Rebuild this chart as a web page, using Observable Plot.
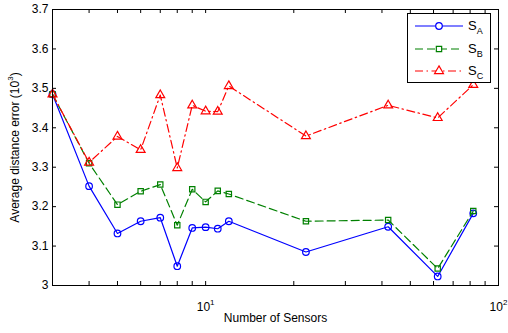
<!DOCTYPE html>
<html><head><meta charset="utf-8">
<script src="https://cdn.jsdelivr.net/npm/d3@7"></script>
<script src="https://cdn.jsdelivr.net/npm/@observablehq/plot@0.6"></script>
<style>
body{margin:0;background:#fff;}
#wrap{position:relative;width:508px;height:333px;font-family:"Liberation Sans",Arial,Helvetica,sans-serif;}
#legend{position:absolute;left:407px;top:13px;width:82px;height:68px;border:1.3px solid #000;background:#fff;}
.row{position:absolute;left:0;width:82px;height:20px;}
.row svg{position:absolute;left:7px;top:0;}
.row span{position:absolute;left:60px;top:0;line-height:20px;font-size:13px;color:#000;}
.row sub{font-size:9px;vertical-align:-4px;line-height:0;}
</style>
</head><body>
<div id="wrap"></div>
<script>
// ---- data ----
const sensors = [3, 4, 5, 6, 7, 8, 9, 10, 11, 12, 22, 42, 62, 82];
const sA = [3.485, 3.252, 3.132, 3.163, 3.172, 3.049, 3.146, 3.148, 3.144, 3.163, 3.085, 3.149, 3.023, 3.183];
const sB = [3.485, 3.310, 3.205, 3.239, 3.256, 3.153, 3.244, 3.212, 3.240, 3.232, 3.163, 3.166, 3.043, 3.189];
const sC = [3.485, 3.312, 3.378, 3.344, 3.483, 3.298, 3.457, 3.442, 3.441, 3.506, 3.379, 3.457, 3.425, 3.509];
const seriesNames = ["A", "B", "C"];
const yTicks = [3, 3.1, 3.2, 3.3, 3.4, 3.5, 3.6, 3.7];
const xMajorTicks = [10, 100];
const xMinorTicks = [4, 5, 6, 7, 8, 9, 20, 30, 40, 50, 60, 70, 80, 90];
const xLabel = "Number of Sensors";
const yLabel = "Average distance error (10^3)";

// ---- layout / style ----
const W = 508, H = 333, mL = 52, mR = 10, mT = 9, mB = 48;
const fw = W - mL - mR, fh = H - mT - mB, tk = 4;
const colors = ["#0000ff", "#008000", "#ff0000"];
const dashes = [null, "8,4", "8,3.5,1.5,3.5"];
const symbols = ["circle", "square", "triangle"];
const radii = [3.3, 3, 3.3];
const allX = [...xMinorTicks, ...xMajorTicks];

const series = [sA, sB, sC];
const seriesMarks = series.flatMap((vals, s) => {
  const rows = sensors.map((x, i) => ({x, y: vals[i]}));
  return [
    Plot.line(rows, {x: "x", y: "y", stroke: colors[s], strokeWidth: 1.2, strokeDasharray: dashes[s]}),
    Plot.dot(rows, {x: "x", y: "y", stroke: colors[s], fill: "none", strokeWidth: 1.2, symbol: symbols[s], r: radii[s]})
  ];
});

const chart = Plot.plot({
  width: W, height: H,
  marginLeft: mL, marginRight: mR, marginTop: mT, marginBottom: mB,
  style: {fontFamily: '"Liberation Sans", Arial, Helvetica, sans-serif', fontSize: "12px", color: "#000", background: "#fff", overflow: "visible"},
  x: {type: "log", domain: [3, 100]},
  y: {domain: [3, 3.7]},
  marks: [
    Plot.axisX({ticks: xMajorTicks, tickSize: 0, tickPadding: 17, tickFormat: d => "10^" + Math.round(Math.log10(d)), label: null}),
    Plot.axisY({ticks: yTicks, tickSize: 0, tickPadding: 4, tickFormat: d => String(+d.toFixed(1)), label: null}),
    Plot.ruleY(yTicks, {insetRight: fw - tk, stroke: "#000"}),
    Plot.ruleY(yTicks, {insetLeft: fw - tk, stroke: "#000"}),
    Plot.ruleX(allX, {insetTop: fh - tk, stroke: "#000"}),
    Plot.ruleX(allX, {insetBottom: fh - tk, stroke: "#000"}),
    ...seriesMarks,
    Plot.frame({stroke: "#000", strokeWidth: 1}),
    Plot.text([xLabel], {text: d => d, frameAnchor: "bottom", dy: 36, fontSize: 12, textAnchor: "middle"}),
    Plot.text([yLabel], {text: d => d, frameAnchor: "left", rotate: -90, dx: -37, fontSize: 12, textAnchor: "middle"})
  ]
});

// superscripts: "a^b rest" -> a<sup>b</sup> rest
const NS = "http://www.w3.org/2000/svg";
chart.querySelectorAll("text").forEach(t => {
  const m = t.textContent.match(/^(.*?)\^(\d)(.*)$/);
  if (!m) return;
  t.textContent = "";
  const a = document.createElementNS(NS, "tspan"); a.textContent = m[1];
  const b = document.createElementNS(NS, "tspan"); b.textContent = m[2];
  b.setAttribute("dy", "-6"); b.setAttribute("font-size", "8");
  t.append(a, b);
  if (m[3]) {
    const c = document.createElementNS(NS, "tspan"); c.textContent = m[3];
    c.setAttribute("dy", "6");
    t.append(c);
  }
});

const wrap = document.getElementById("wrap");
wrap.append(chart);

// legend
const leg = document.createElement("div");
leg.id = "legend";
const rowCenters = [12, 35, 57];
seriesNames.forEach((name, s) => {
  const row = document.createElement("div");
  row.className = "row";
  row.style.top = (rowCenters[s] - 10) + "px";
  const svg = document.createElementNS(NS, "svg");
  svg.setAttribute("width", 48); svg.setAttribute("height", 20);
  const ln = document.createElementNS(NS, "line");
  ln.setAttribute("x1", 0); ln.setAttribute("x2", 48); ln.setAttribute("y1", 10); ln.setAttribute("y2", 10);
  ln.setAttribute("stroke", colors[s]); ln.setAttribute("stroke-width", 1.2);
  if (dashes[s]) ln.setAttribute("stroke-dasharray", dashes[s]);
  svg.append(ln);
  const p = document.createElementNS(NS, "path");
  const sym = {circle: d3.symbolCircle, square: d3.symbolSquare, triangle: d3.symbolTriangle}[symbols[s]];
  p.setAttribute("d", d3.symbol(sym, radii[s] * radii[s] * Math.PI)());
  p.setAttribute("transform", "translate(24,10)");
  p.setAttribute("fill", "#fff"); p.setAttribute("stroke", colors[s]); p.setAttribute("stroke-width", 1.2);
  svg.append(p);
  row.append(svg);
  const sp = document.createElement("span");
  sp.innerHTML = "S<sub>" + name + "</sub>";
  row.append(sp);
  leg.append(row);
});
wrap.append(leg);
</script>
</body></html>
